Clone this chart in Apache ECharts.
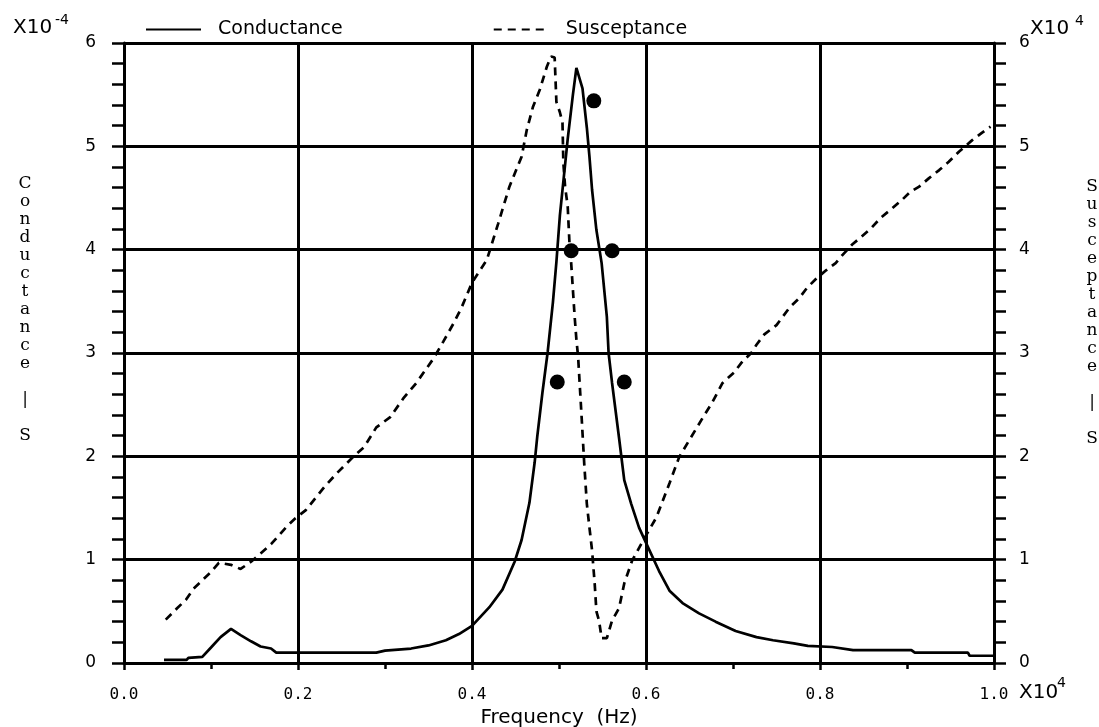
<!DOCTYPE html>
<html>
<head>
<meta charset="utf-8">
<script src="https://cdn.jsdelivr.net/npm/echarts@6/dist/echarts.min.js"></script>
<style>
  html, body { margin: 0; padding: 0; background: #fff; }
  #chart { width: 1099px; height: 727px; }
</style>
</head>
<body>
<div id="chart"></div>
<script>
// frequency in units of 1e4 Hz, conductance in 1e-4 S, susceptance on the right scale
var condFreq = [0.046, 0.072, 0.074, 0.09, 0.1, 0.111, 0.123, 0.134, 0.146, 0.157, 0.169, 0.175,
  0.29, 0.30, 0.33, 0.35, 0.37, 0.385, 0.4, 0.42, 0.435, 0.449, 0.457, 0.466, 0.472, 0.475,
  0.481, 0.487, 0.493, 0.497, 0.501, 0.510, 0.516, 0.520, 0.527, 0.532, 0.535, 0.538, 0.543,
  0.549, 0.555, 0.557, 0.561, 0.569, 0.575, 0.583, 0.592, 0.604, 0.615, 0.627, 0.642, 0.661,
  0.68, 0.703, 0.727, 0.746, 0.77, 0.786, 0.814, 0.838, 0.905, 0.909, 0.97, 0.972, 1.0];
var condValues = [0.03, 0.03, 0.05, 0.06, 0.15, 0.25, 0.33, 0.27, 0.21, 0.16, 0.14, 0.10,
  0.10, 0.12, 0.14, 0.17, 0.22, 0.28, 0.36, 0.54, 0.71, 0.98, 1.19, 1.55, 1.94, 2.19,
  2.62, 3.01, 3.49, 3.88, 4.33, 5.07, 5.50, 5.76, 5.56, 5.18, 4.90, 4.58, 4.19,
  3.87, 3.35, 3.0, 2.71, 2.18, 1.77, 1.54, 1.31, 1.09, 0.89, 0.70, 0.58, 0.48,
  0.40, 0.31, 0.25, 0.22, 0.19, 0.165, 0.155, 0.125, 0.125, 0.10, 0.10, 0.07, 0.07];

var susFreq = [0.048, 0.061, 0.071, 0.08, 0.09, 0.1, 0.109, 0.123, 0.134, 0.146, 0.157, 0.169,
  0.187, 0.197, 0.209, 0.23, 0.245, 0.264, 0.276, 0.29, 0.306, 0.321, 0.336, 0.356, 0.367,
  0.379, 0.388, 0.4, 0.417, 0.43, 0.443, 0.457, 0.463, 0.470, 0.478, 0.486, 0.491, 0.495,
  0.497, 0.501, 0.504, 0.505, 0.507, 0.510, 0.512, 0.514, 0.518, 0.520, 0.522, 0.526, 0.529,
  0.532, 0.535, 0.538, 0.541, 0.543, 0.546, 0.549, 0.555, 0.561, 0.569, 0.575, 0.584, 0.595,
  0.612, 0.627, 0.638, 0.650, 0.665, 0.676, 0.688, 0.701, 0.711, 0.721, 0.727, 0.736, 0.75,
  0.765, 0.776, 0.785, 0.797, 0.807, 0.818, 0.826, 0.837, 0.847, 0.859, 0.87, 0.883, 0.894,
  0.904, 0.914, 0.925, 0.937, 0.948, 0.96, 0.975, 0.986, 0.996];
var susValues = [0.42, 0.53, 0.61, 0.72, 0.80, 0.88, 0.97, 0.95, 0.91, 0.98, 1.06, 1.15,
  1.32, 1.40, 1.48, 1.70, 1.84, 2.0, 2.09, 2.28, 2.38, 2.56, 2.71, 2.95, 3.11,
  3.29, 3.44, 3.68, 3.9, 4.25, 4.61, 4.90, 5.16, 5.38, 5.55, 5.77, 5.87, 5.86,
  5.43, 5.33, 5.23, 4.84, 4.61, 4.42, 4.07, 3.87, 3.35, 3.13, 2.96, 2.38, 1.93,
  1.54, 1.31, 1.09, 0.77, 0.50, 0.41, 0.24, 0.24, 0.41, 0.53, 0.77, 0.99, 1.16,
  1.41, 1.74, 1.99, 2.16, 2.37, 2.52, 2.71, 2.81, 2.92, 3.0, 3.08, 3.18, 3.27,
  3.44, 3.53, 3.63, 3.73, 3.80, 3.87, 3.95, 4.05, 4.12, 4.21, 4.31, 4.40, 4.48,
  4.56, 4.61, 4.69, 4.77, 4.85, 4.95, 5.06, 5.13, 5.19];

// marker dots
var dotFreq = [0.540, 0.514, 0.561, 0.498, 0.575];
var dotValues = [5.44, 3.99, 3.99, 2.72, 2.72];

var yTicks = [0, 1, 2, 3, 4, 5, 6];

function pairs(xs, ys) {
  return xs.map(function (x, i) { return [x, ys[i]]; });
}

var black = "#000";
var sans = "DejaVu Sans";

var chart = echarts.init(document.getElementById("chart"));

function yAxisCfg(pos, margin) {
  return {
    type: "value",
    position: pos,
    min: yTicks[0],
    max: yTicks[yTicks.length - 1],
    interval: 1,
    axisLine: { show: true, lineStyle: { color: black, width: 3 } },
    axisTick: { show: true, length: 12, lineStyle: { color: black, width: 2.5 } },
    minorTick: { show: true, splitNumber: 5, length: 12, lineStyle: { color: black, width: 2.5 } },
    axisLabel: { color: black, fontFamily: sans, fontSize: 17, margin: margin },
    splitLine: { show: pos === "left", lineStyle: { color: black, width: 3 } }
  };
}

var option = {
  backgroundColor: "#fff",
  animation: false,
  grid: { left: 124, right: 105, top: 43, bottom: 64, outerBoundsMode: "none", containLabel: false },
  legend: {
    data: ["Conductance", "Susceptance"],
    left: 140,
    top: 15,
    itemWidth: 55,
    itemHeight: 14,
    itemGap: 150,
    itemStyle: { opacity: 0 },
    textStyle: { color: black, fontFamily: sans, fontSize: 19, padding: [0, 0, 0, 12] }
  },
  xAxis: {
    type: "value",
    min: 0,
    max: 1,
    interval: 0.2,
    name: "Frequency  (Hz)",
    nameLocation: "middle",
    nameGap: 42,
    nameTextStyle: { color: black, fontFamily: sans, fontSize: 20 },
    axisLine: { lineStyle: { color: black, width: 3 } },
    axisTick: { length: 7, lineStyle: { color: black, width: 2.5 } },
    minorTick: { show: true, splitNumber: 2, length: 6, lineStyle: { color: black, width: 2.5 } },
    axisLabel: {
      color: black, fontFamily: "DejaVu Sans Mono", fontSize: 16, margin: 24,
      formatter: function (v) { return v.toFixed(1); }
    },
    splitLine: { show: true, lineStyle: { color: black, width: 3 } }
  },
  yAxis: [yAxisCfg("left", 28), yAxisCfg("right", 25)],
  series: [
    {
      name: "Conductance",
      type: "line",
      yAxisIndex: 0,
      symbol: "none",
      lineStyle: { color: black, width: 2.7 },
      itemStyle: { color: black },
      data: pairs(condFreq, condValues),
      z: 5
    },
    {
      name: "Susceptance",
      type: "line",
      yAxisIndex: 1,
      symbol: "none",
      lineStyle: { color: black, width: 2.7, type: [8, 6] },
      itemStyle: { color: black },
      data: pairs(susFreq, susValues),
      z: 5
    },
    {
      name: "points",
      type: "scatter",
      yAxisIndex: 0,
      symbol: "circle",
      symbolSize: 15,
      itemStyle: { color: black, opacity: 1 },
      data: pairs(dotFreq, dotValues),
      z: 6
    }
  ],
  graphic: [
    { type: "text", left: 13, top: 18, style: { text: "X10", font: "20px " + sans, fill: black } },
    { type: "text", left: 55, top: 13, style: { text: "-4", font: "14px " + sans, fill: black } },
    { type: "text", left: 1030, top: 19, style: { text: "X10", font: "20px " + sans, fill: black } },
    { type: "text", left: 1075, top: 14, style: { text: "4", font: "14px " + sans, fill: black } },
    { type: "text", left: 1019, top: 683, style: { text: "X10", font: "20px " + sans, fill: black } },
    { type: "text", left: 1057, top: 676, style: { text: "4", font: "14px " + sans, fill: black } },
    {
      type: "text", x: 25, y: 175,
      style: {
        text: "Conductance".split("").concat(["", "|", "", "S"]).join("\n"),
        font: "17px 'DejaVu Serif'", lineHeight: 18, fill: black,
        textAlign: "center", textVerticalAlign: "top"
      }
    },
    {
      type: "text", x: 1092, y: 178,
      style: {
        text: "Susceptance".split("").concat(["", "|", "", "S"]).join("\n"),
        font: "17px 'DejaVu Serif'", lineHeight: 18, fill: black,
        textAlign: "center", textVerticalAlign: "top"
      }
    }
  ]
};

chart.setOption(option);
</script>
</body>
</html>
